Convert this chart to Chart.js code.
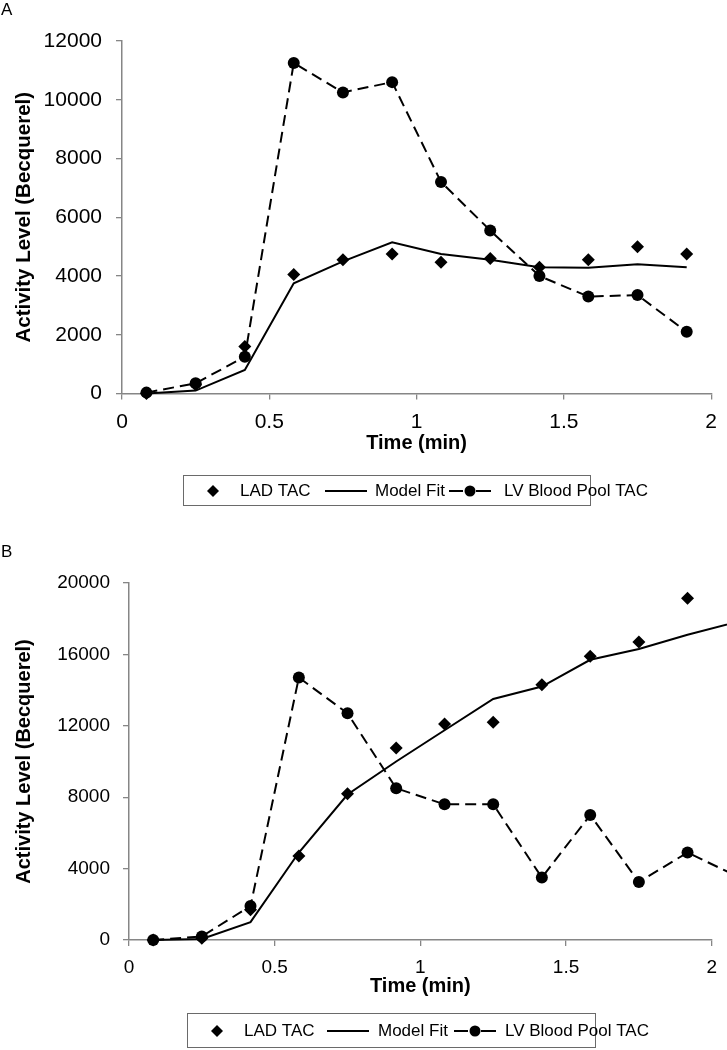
<!DOCTYPE html>
<html>
<head>
<meta charset="utf-8">
<script src="https://cdn.jsdelivr.net/npm/chart.js@4.4.1/dist/chart.umd.min.js"></script>
<style>
  body { margin: 0; background: #fff; width: 727px; height: 1050px; position: relative; overflow: hidden; font-family: "Liberation Sans", Arial, sans-serif; }
  .panel { position: absolute; left: 0; width: 727px; }
  .tag { position: absolute; left: 1px; font-size: 17px; line-height: 17px; color: #000; }
</style>
</head>
<body>
<div class="panel" style="top:0;height:520px"><canvas id="chartA" width="727" height="520"></canvas></div>
<div class="panel" style="top:520px;height:530px"><canvas id="chartB" width="727" height="530"></canvas></div>
<div class="tag" style="top:1px">A</div>
<div class="tag" style="top:543px">B</div>
<script>
// sample times (min) - frames every 5 s
const timesA = [0.083, 0.25, 0.417, 0.583, 0.75, 0.917, 1.083, 1.25, 1.417, 1.583, 1.75, 1.917];
const ladTacA = [0, 300, 1600, 4050, 4550, 4750, 4470, 4600, 4300, 4550, 5000, 4750];
const modelFitA = [0, 100, 800, 3750, 4500, 5150, 4750, 4550, 4300, 4280, 4400, 4300];
const lvPoolA = [30, 350, 1250, 11250, 10250, 10600, 7200, 5550, 4000, 3300, 3350, 2100];

// panel B runs one frame past the axis end (clipped at the edge)
const timesB = [0.083, 0.25, 0.417, 0.583, 0.75, 0.917, 1.083, 1.25, 1.417, 1.583, 1.75, 1.917, 2.083];
const ladTacB = [0, 100, 1700, 4700, 8200, 10750, 12100, 12200, 14300, 15900, 16700, 19150, null];
const modelFitB = [0, 60, 1000, 4900, 8150, 10000, 11750, 13500, 14200, 15700, 16300, 17100, 17800];
const lvPoolB = [0, 200, 1900, 14700, 12700, 8500, 7600, 7600, 3500, 7000, 3250, 4900, 3600];

const seriesLabels = ['LAD TAC', 'Model Fit', 'LV Blood Pool TAC'];
const xTicks = { min: 0, max: 2, step: 0.5 };
const yTicksA = { min: 0, max: 12000, step: 2000 };
const yTicksB = { min: 0, max: 20000, step: 4000 };

const FONT = '"Liberation Sans", Arial, sans-serif';
Chart.defaults.font.family = FONT;
Chart.defaults.color = '#000';

const AXIS_GREY = '#868686';

function pairs(xs, ys) {
  return xs.map((x, i) => ({ x: x, y: ys[i] }));
}

// legend drawn as a framed box below the plot, excel style
const boxLegend = {
  id: 'boxLegend',
  afterDraw(chart, args, opts) {
    const ctx = chart.ctx;
    ctx.save();
    ctx.strokeStyle = '#6a6a6a';
    ctx.lineWidth = 1;
    ctx.strokeRect(opts.left + 0.5, opts.top + 0.5, opts.width, opts.height);
    ctx.font = opts.size + 'px ' + FONT;
    ctx.fillStyle = '#000';
    ctx.strokeStyle = '#000';
    ctx.textBaseline = 'middle';
    const cy = opts.top + opts.height / 2 + 1;
    chart.data.datasets.forEach((ds, i) => {
      const sx = opts.left + opts.symbolX[i];
      ctx.lineWidth = 2;
      if (i === 0) {
        const r = 6;
        ctx.beginPath();
        ctx.moveTo(sx, cy - r); ctx.lineTo(sx + r, cy); ctx.lineTo(sx, cy + r); ctx.lineTo(sx - r, cy);
        ctx.closePath();
        ctx.fill();
      } else if (i === 1) {
        ctx.beginPath();
        ctx.moveTo(sx, cy); ctx.lineTo(sx + 42, cy);
        ctx.stroke();
      } else {
        ctx.beginPath();
        ctx.moveTo(sx, cy); ctx.lineTo(sx + 14, cy);
        ctx.moveTo(sx + 27, cy); ctx.lineTo(sx + 42, cy);
        ctx.stroke();
        ctx.beginPath();
        ctx.arc(sx + 21, cy, 5.5, 0, Math.PI * 2);
        ctx.fill();
      }
      ctx.fillText(ds.label, opts.left + opts.textX[i], cy);
    });
    ctx.restore();
  }
};

function makeChart(id, cfg) {
  const datasets = [
    {
      label: seriesLabels[0],
      data: pairs(cfg.times, cfg.lad),
      showLine: false,
      pointStyle: 'rectRot',
      pointRadius: 6.5,
      pointBorderWidth: 0,
      backgroundColor: '#000',
      borderColor: '#000',
      order: 1,
      clip: false
    },
    {
      label: seriesLabels[1],
      data: pairs(cfg.times, cfg.model),
      showLine: true,
      borderColor: '#000',
      borderWidth: 2,
      pointRadius: 0,
      tension: 0,
      order: 2,
      clip: false
    },
    {
      label: seriesLabels[2],
      data: pairs(cfg.times, cfg.lv),
      showLine: true,
      borderColor: '#000',
      borderWidth: 2,
      borderDash: [11, 6],
      pointStyle: 'circle',
      pointRadius: 6,
      pointBorderWidth: 0,
      backgroundColor: '#000',
      tension: 0,
      order: 0,
      clip: false
    }
  ];

  return new Chart(document.getElementById(id).getContext('2d'), {
    type: 'scatter',
    data: { datasets: datasets },
    options: {
      responsive: false,
      animation: false,
      layout: { padding: cfg.padding },
      plugins: {
        legend: { display: false },
        tooltip: { enabled: false },
        boxLegend: cfg.legend
      },
      scales: {
        x: {
          type: 'linear',
          min: xTicks.min,
          max: xTicks.max,
          afterFit: s => { s.height = cfg.xHeight; },
          ticks: { stepSize: xTicks.step, padding: 10, font: { size: cfg.tickSize }, color: '#000', maxRotation: 0, callback: v => String(v) },
          grid: { drawOnChartArea: false, tickLength: 6, color: AXIS_GREY, lineWidth: 1.3 },
          border: { display: true, color: AXIS_GREY, width: 1.5 },
          title: { display: true, text: 'Time (min)', font: { size: 20, weight: 'bold' }, color: '#000', padding: 0 }
        },
        y: {
          min: cfg.yTicks.min,
          max: cfg.yTicks.max,
          afterFit: s => { s.width = cfg.yWidth; },
          ticks: { stepSize: cfg.yTicks.step, padding: cfg.yPad, font: { size: cfg.tickSize }, color: '#000', callback: v => String(v) },
          grid: { drawOnChartArea: false, tickLength: 6, color: AXIS_GREY, lineWidth: 1.3 },
          border: { display: true, color: AXIS_GREY, width: 1.5 },
          title: {
            display: true,
            text: 'Activity Level (Becquerel)',
            font: { size: cfg.titleSize, weight: 'bold' },
            color: '#000',
            padding: { top: cfg.titlePad, bottom: 0 }
          }
        }
      }
    },
    plugins: [boxLegend]
  });
}

const chartA = makeChart('chartA', {
  times: timesA, lad: ladTacA, model: modelFitA, lv: lvPoolA,
  yTicks: yTicksA,
  padding: { left: 0, top: 41, right: 7, bottom: 64.5 },
  xHeight: 62, yWidth: 122, yPad: 14,
  tickSize: 21, titleSize: 20.5, titlePad: 12, 
  legend: { left: 183, top: 475, width: 407, height: 30, size: 17, symbolX: [30, 142, 266], textX: [57, 192, 321] }
});

const chartB = makeChart('chartB', {
  times: timesB, lad: ladTacB, model: modelFitB, lv: lvPoolB,
  yTicks: yTicksB,
  padding: { left: 0, top: 63, right: 8, bottom: 52 },
  xHeight: 58, yWidth: 129, yPad: 13,
  tickSize: 19, titleSize: 20, titlePad: 12,
  legend: { left: 187, top: 493, width: 408, height: 34, size: 17, symbolX: [30, 140, 267], textX: [57, 191, 318] }
});
</script>
</body>
</html>
